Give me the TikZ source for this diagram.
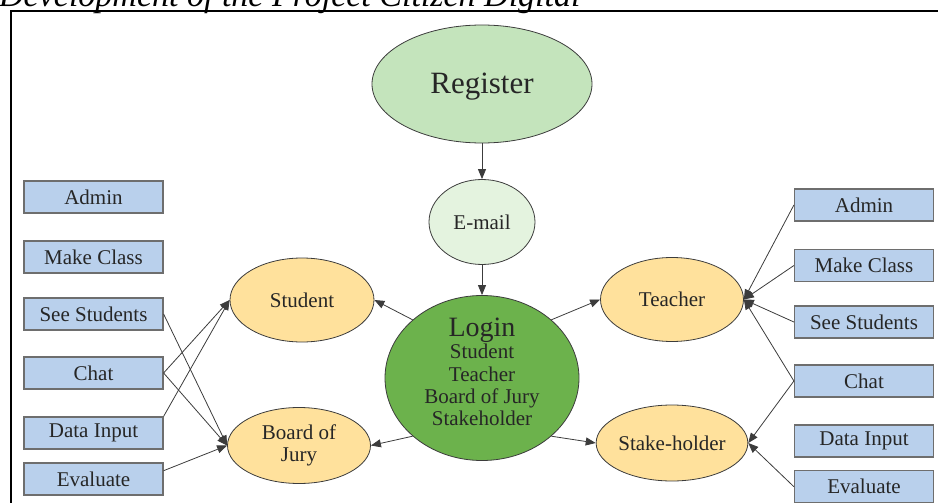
\documentclass[tikz,border=0pt]{standalone}
\usepackage{fontspec}
\setmainfont{Liberation Serif}
\usetikzlibrary{shapes.geometric,arrows.meta,calc}
\definecolor{regfill}{HTML}{C4E4BC}
\definecolor{mailfill}{HTML}{E4F3DF}
\definecolor{loginfill}{HTML}{6CB24C}
\definecolor{rolefill}{HTML}{FFE19C}
\definecolor{boxfill}{HTML}{B9D0EC}
\definecolor{boxline}{HTML}{6E6E6E}
\definecolor{edgeline}{HTML}{3C3C3C}
\definecolor{txt}{HTML}{262626}
\tikzset{
  oval/.style={ellipse, draw=edgeline, line width=0.8pt, inner sep=0pt, text=txt, align=center,
    font=\fontsize{21}{22.3}\selectfont},
  taskbox/.style={rectangle, draw=boxline, line width=1.2pt, fill=boxfill, inner sep=0pt,
    minimum width=139pt, minimum height=32pt, text=txt, font=\fontsize{21}{22.3}\selectfont},
  link/.style={draw=edgeline, line width=0.8pt, -{Triangle[length=10pt,width=8pt]}}
}
\begin{document}
\begin{tikzpicture}[x=1pt,y=-1pt]
\useasboundingbox (0,0) rectangle (938,503);
% caption (cut by the page edge)
\node[anchor=base west, inner sep=0pt, text=black, font=\fontsize{34}{36}\selectfont\itshape] (cap) at (-1,7) {Development of the Project Citizen Digital};
% frame
\draw[line width=1.6pt] (11,510) -- (11,11) -- (945,11);

% central column
\node[oval, fill=regfill, minimum width=220pt, minimum height=118pt] (reg) at (482,84) {};
\node[text=txt, font=\fontsize{31}{33}\selectfont, inner sep=0pt] (regtext) at (482,87) {Register};
\node[oval, fill=mailfill, minimum width=106pt, minimum height=85pt] (email) at (482,222) {E-mail};
\node[oval, fill=loginfill, minimum width=194pt, minimum height=165pt] (login) at (482,378) {};
\node[text=txt, align=center, inner sep=0pt, font=\fontsize{21}{22.4}\selectfont] (logintext) at (482,372)
  {{\fontsize{28}{28}\selectfont Login}\\Student\\Teacher\\Board of Jury\\Stakeholder};

% roles
\node[oval, fill=rolefill, minimum width=144pt, minimum height=84pt] (student) at (302,300) {Student};
\node[oval, fill=rolefill, minimum width=143pt, minimum height=76pt] (board) at (299,445.5) {Board of\\Jury};
\node[oval, fill=rolefill, minimum width=143pt, minimum height=84pt] (teacher) at (672,299.5) {Teacher};
\node[oval, fill=rolefill, minimum width=144pt, minimum height=76pt] (stake) at (672,443) {Stake-holder};

% left boxes
\node[taskbox] (ladmin) at (93.5,197) {Admin};
\node[taskbox] (lmake) at (93.5,257) {Make Class};
\node[taskbox] (lsee) at (93.5,314) {See Students};
\node[taskbox] (lchat) at (93.5,373) {Chat};
\node[taskbox] (ldata) at (93.5,433) {Data Input};
\node[taskbox] (leval) at (93.5,479) {Evaluate};

% right boxes
\node[taskbox] (radmin) at (864,205) {Admin};
\node[taskbox] (rmake) at (864,265.5) {Make Class};
\node[taskbox] (rsee) at (864,322) {See Students};
\node[taskbox] (rchat) at (864,381) {Chat};
\node[taskbox] (rdata) at (864,441) {Data Input};
\node[taskbox] (reval) at (864,486.7) {Evaluate};

% central arrows
\draw[link] (reg.south) -- (email.north);
\draw[link] (email.south) -- (login.north);
\draw[link] (login.140) -- (student.east);
\draw[link] (login.220) -- (board.east);
\draw[link] (login.40) -- (teacher.west);
\draw[link] (login.320) -- (stake.west);

% left connectors
\draw[link] (lsee.east) -- (board.west);
\draw[link] (lchat.east) -- (student.west);
\draw[link] (lchat.east) -- (board.west);
\draw[link] (ldata.north east) -- (student.west);
\draw[link] ($(leval.north east)!0.25!(leval.south east)$) -- (board.west);

% right connectors
\draw[link] (radmin.west) -- (teacher.east);
\draw[link] (rmake.west) -- (teacher.east);
\draw[link] (rsee.west) -- (teacher.east);
\draw[link] (rchat.west) -- (teacher.east);
\draw[link] (rchat.west) -- (stake.east);
\draw[link] (reval.west) -- (stake.east);
\end{tikzpicture}
\end{document}
